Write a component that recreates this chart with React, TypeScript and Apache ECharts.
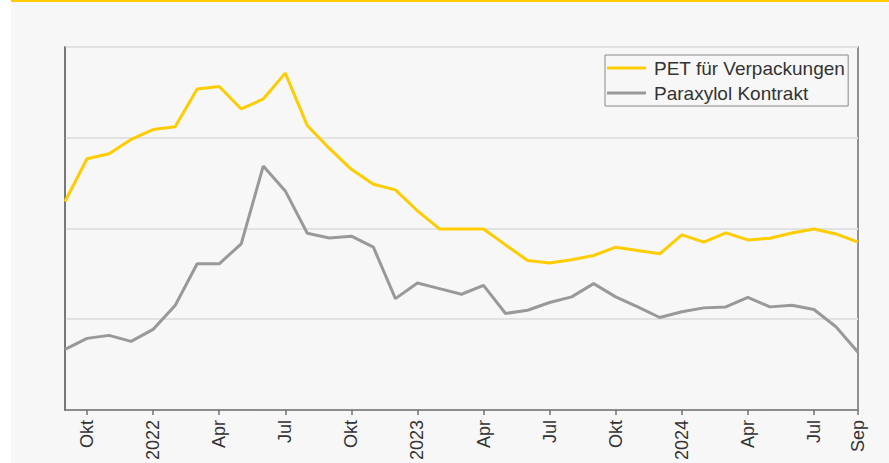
import React, { useEffect, useRef } from "react";
import * as echarts from "echarts";

const months = [
  "2021-09", "2021-10", "2021-11", "2021-12",
  "2022-01", "2022-02", "2022-03", "2022-04", "2022-05", "2022-06", "2022-07", "2022-08", "2022-09", "2022-10", "2022-11", "2022-12",
  "2023-01", "2023-02", "2023-03", "2023-04", "2023-05", "2023-06", "2023-07", "2023-08", "2023-09", "2023-10", "2023-11", "2023-12",
  "2024-01", "2024-02", "2024-03", "2024-04", "2024-05", "2024-06", "2024-07", "2024-08", "2024-09",
];

const tickLabels = [
  "", "Okt", "", "",
  "2022", "", "", "Apr", "", "", "Jul", "", "", "Okt", "", "",
  "2023", "", "", "Apr", "", "", "Jul", "", "", "Okt", "", "",
  "2024", "", "", "Apr", "", "", "Jul", "", "Sep",
];

const petValues = [
  229.8, 276.9, 282.4, 298.1,
  309.0, 312.0, 353.6, 356.5, 331.7, 342.7, 371.2, 313.4, 288.2, 265.2, 248.8, 242.5,
  219.5, 199.5, 199.5, 199.5, 181.9, 164.7, 161.9, 165.5, 170.2, 179.4, 175.7, 172.1,
  192.9, 184.9, 195.1, 187.4, 189.3, 195.1, 199.5, 194.0, 184.9,
];

const pxValues = [
  66.8, 78.9, 82.2, 75.6,
  88.8, 115.1, 161.1, 161.1, 183.0, 268.8, 241.4, 194.7, 189.6, 191.5, 179.4, 122.7,
  139.9, 133.7, 127.5, 137.3, 106.3, 109.9, 118.4, 124.6, 139.2, 124.6, 113.6, 101.9,
  108.2, 112.5, 113.6, 124.2, 113.6, 115.4, 110.7, 91.7, 63.6,
];

const seriesNames = ["PET für Verpackungen", "Paraxylol Kontrakt"];

export default function App() {
  const ref = useRef<HTMLDivElement>(null);

  useEffect(() => {
    if (!ref.current) return;
    const chart = echarts.init(ref.current, undefined, { renderer: "svg" });
    chart.setOption({
      animation: false,
      backgroundColor: "transparent",
      textStyle: { fontFamily: "Liberation Sans, Arial, sans-serif" },
      grid: {
        left: 65,
        right: 31,
        top: 47,
        bottom: 50,
        show: true,
        borderColor: "#707070",
        borderWidth: 1.5,
        backgroundColor: "transparent",
      },
      legend: {
        orient: "vertical",
        left: 605,
        top: 55,
        padding: [3, 3, 3, 2],
        itemGap: 5,
        itemWidth: 39,
        itemHeight: 3,
        icon: "rect",
        borderColor: "#888",
        borderWidth: 1,
        backgroundColor: "#f7f7f7",
        textStyle: {
          fontSize: 19,
          lineHeight: 20,
          color: "#333",
          padding: [0, 0, 0, 3],
          fontFamily: "Liberation Sans, Arial, sans-serif",
        },
        data: seriesNames,
      },
      xAxis: {
        type: "category",
        data: months,
        boundaryGap: false,
        axisLine: { show: true, lineStyle: { color: "#707070", width: 1.5 } },
        axisTick: {
          show: true,
          length: 5,
          interval: (i: number) => tickLabels[i] !== "",
          lineStyle: { color: "#707070", width: 1.5 },
        },
        axisLabel: {
          interval: (i: number) => tickLabels[i] !== "",
          formatter: (_v: string, i: number) => tickLabels[i],
          rotate: 90,
          margin: 10,
          fontSize: 18,
          color: "#333",
          fontFamily: "Liberation Sans, Arial, sans-serif",
        },
        splitLine: { show: false },
      },
      yAxis: {
        type: "value",
        min: 0,
        max: 400,
        interval: 100,
        axisLine: { show: true, lineStyle: { color: "#707070", width: 1.5 } },
        axisTick: { show: false },
        axisLabel: { show: false },
        splitLine: { show: true, lineStyle: { color: "#e2e2e2", width: 2 } },
      },
      series: [
        {
          name: seriesNames[0],
          type: "line",
          data: petValues,
          showSymbol: false,
          symbol: "none",
          lineStyle: { color: "#ffcc00", width: 3 },
          itemStyle: { color: "#ffcc00" },
          z: 3,
        },
        {
          name: seriesNames[1],
          type: "line",
          data: pxValues,
          showSymbol: false,
          symbol: "none",
          lineStyle: { color: "#999999", width: 3 },
          itemStyle: { color: "#999999" },
          z: 2,
        },
      ],
    });
    return () => chart.dispose();
  }, []);

  return (
    <div style={{ position: "fixed", left: 0, top: 0, width: 889, height: 463, background: "#ffffff" }}>
      <div
        style={{
          position: "absolute",
          left: 11,
          top: 0,
          width: 878,
          height: 461,
          background: "#f7f7f7",
          borderTop: "2px solid #ffcc00",
        }}
      />
      <div ref={ref} style={{ position: "absolute", left: 0, top: 0, width: 889, height: 463 }} />
    </div>
  );
}
